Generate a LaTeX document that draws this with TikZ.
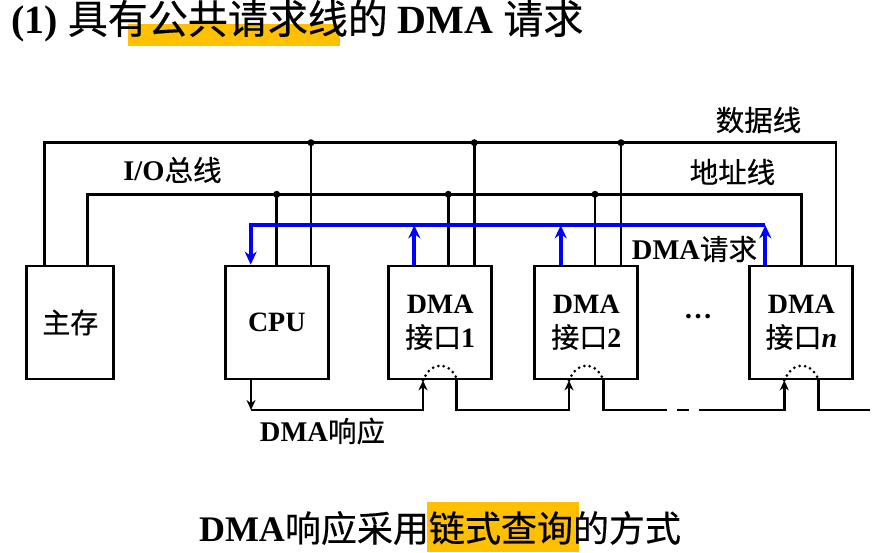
\documentclass[tikz,border=0pt]{standalone}
\usepackage{fontspec}
\setmainfont{Liberation Serif}
\newfontfamily\cjk[BoldFont=Noto Sans CJK SC,BoldFeatures={FakeBold=0.5}]{Noto Sans CJK SC}
\usetikzlibrary{arrows.meta}
\definecolor{markyellow}{HTML}{FFC000}
\begin{document}
\begin{tikzpicture}[x=1pt,y=-1pt,line join=miter,>={Stealth[length=13pt,width=12pt]},font=\bfseries]
	\tikzset{
		box/.style={draw,line width=2.8pt,minimum width=103pt,minimum height=113pt,inner sep=0pt,align=center,font=\fontsize{28}{34}\bfseries\selectfont},
		bus/.style={line width=2.8pt},
		req/.style={blue,line width=3.8pt},
		ack/.style={line width=2.8pt,->,>={Stealth[length=10pt,width=9pt]}},
		tap/.style={circle,fill,inner sep=0pt,minimum size=7pt},
		lab/.style={inner sep=0pt,font=\fontsize{28.5}{34}\bfseries\selectfont}
	}
	\useasboundingbox (0,0) rectangle (892,552);
	% highlights
	\fill[markyellow] (128,24) rectangle (340,45.5);
	\fill[markyellow] (427,502) rectangle (579,552);
	\node[lab,anchor=west,font=\fontsize{40}{44}\bfseries\selectfont] (title) at (11,21) {(1) {\cjk 具有公共请求线的} DMA {\cjk 请求}};
	\node[lab,font=\fontsize{36}{40}\bfseries\selectfont] (foot) at (440,528) {DMA{\cjk 响应采用链式查询的方式}};
	% boxes
	\node[box,minimum width=87pt] (mem) at (70.3,322.5) {\cjk 主存};
	\node[box] (cpu) at (276.8,322.5) {CPU};
	\node[box] (dma1) at (440.2,322.5) {DMA\\{\cjk 接口}1};
	\node[box] (dma2) at (586.3,322.5) {DMA\\{\cjk 接口}2};
	\node[box] (dman) at (801.3,322.5) {DMA\\{\cjk 接口}\textit{n}};
	\node[lab] (dots) at (698,317) {…};
	% data and address lines
	\coordinate (dataL) at (44.3,142.7);
	\coordinate (dataR) at (836,142.7);
	\coordinate (addrL) at (87.7,194.3);
	\coordinate (addrR) at (801.3,194.3);
	\draw[bus] (mem.north -| dataL)--(dataL)--(dataR)--(dataR |- dman.north);
	\draw[bus] (mem.north -| addrL)--(addrL)--(addrR)--(addrR |- dman.north);
	\foreach \name/\xa/\xd in {cpu/276.7/311,dma1/448.3/474.3,dma2/595/621}{
		\node[tap] (addr\name) at (\xa,194.3) {};
		\node[tap] (data\name) at (\xd,142.7) {};
		\draw[bus] (addr\name.center)--(addr\name.center |- \name.north);
		\draw[bus] (data\name.center)--(data\name.center |- \name.north);
	}
	% request line
	\coordinate (reqL) at (250.7,225.3);
	\coordinate (reqR) at (765.3,225.3);
	\draw[req,->] (reqR)--(reqL)--(reqL |- cpu.north);
	\foreach \name/\x in {dma1/414.3,dma2/560.7,dman/765.3}
	\draw[req,->] (\x,0 |- \name.north)--(\x,225.3);
	% response chain
	\coordinate (ackA) at (251,410);
	\coordinate (ackB) at (423,410);
	\draw[ack] (ackA |- cpu.south)--(ackA);
	\draw[ack] (ackA)--(ackB)--(ackB |- dma1.south);
	\coordinate (ackC) at (456.7,410);
	\coordinate (ackD) at (569,410);
	\draw[ack] (ackC |- dma1.south)--(ackC)--(ackD)--(ackD |- dma2.south);
	\coordinate (ackE) at (603.7,410);
	\coordinate (ackF) at (784.3,410);
	\draw[bus] (ackE |- dma2.south)--(ackE)--(667,410);
	\draw[bus] (677,410)--(689,410);
	\draw[ack] (699,410)--(ackF)--(ackF |- dman.south);
	\coordinate (ackG) at (818.7,410);
	\coordinate (ackH) at (870,410);
	\draw[bus] (ackG |- dman.south)--(ackG)--(ackH);
	% dotted bypass inside the interfaces
	\foreach \name/\x in {dma1/423,dma2/569,dman/784.3}
	\draw[line width=3pt,line cap=round,dash pattern=on 0pt off 5.5pt] (\x,379 |- \name.south) .. controls (\x+8,361) and (\x+26,361) .. (\x+34,379);
	% labels
	\node[lab] (iolab) at (172.5,170) {I/O{\cjk 总线}};
	\node[lab] (datalab) at (758.5,120) {\cjk 数据线};
	\node[lab] (addrlab) at (732.5,172) {\cjk 地址线};
	\node[lab] (reqlab) at (694.5,249) {DMA{\cjk 请求}};
	\node[lab] (acklab) at (322.5,431) {DMA{\cjk 响应}};
\end{tikzpicture}
\end{document}
